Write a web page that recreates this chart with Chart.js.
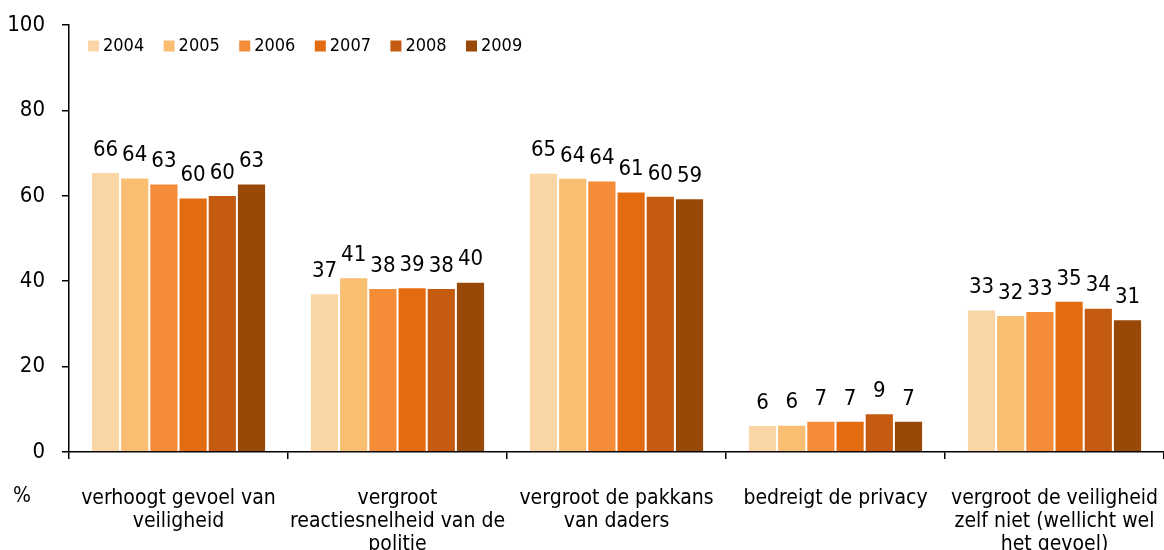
<!DOCTYPE html>
<html>
<head>
<meta charset="utf-8">
<script src="https://cdn.jsdelivr.net/npm/chart.js@4"></script>
<style>
  html, body { margin: 0; padding: 0; background: #fff; }
  #wrap { width: 1164px; height: 550px; position: relative; }
</style>
</head>
<body>
<div id="wrap"><canvas id="chart"></canvas></div>
<script>
const categories = [
  ['verhoogt gevoel van', 'veiligheid'],
  ['vergroot', 'reactiesnelheid van de', 'politie'],
  ['vergroot de pakkans', 'van daders'],
  ['bedreigt de privacy'],
  ['vergroot de veiligheid', 'zelf niet (wellicht wel', 'het gevoel)']
];
const years = ['2004', '2005', '2006', '2007', '2008', '2009'];

// values per year, one entry per category
const v2004 = [65.6, 37.2, 65.4, 6.3, 33.4];
const v2005 = [64.3, 40.9, 64.2, 6.4, 32.1];
const v2006 = [62.9, 38.4, 63.6, 7.3, 33.0];
const v2007 = [59.6, 38.6, 61.0, 7.3, 35.4];
const v2008 = [60.2, 38.4, 60.0, 9.1, 33.8];
const v2009 = [62.9, 39.9, 59.4, 7.3, 31.1];
const series = [v2004, v2005, v2006, v2007, v2008, v2009];

const colors = ['#fad5a5', '#f9be72', '#f58c37', '#e46c10', '#c55a11', '#984807'];

const FONT = '"DejaVu Sans Condensed", "DejaVu Sans", sans-serif';
Chart.defaults.font.family = FONT;
Chart.defaults.color = '#000';

// value labels above each bar
const barLabels = {
  id: 'barLabels',
  afterDatasetsDraw(chart) {
    const ctx = chart.ctx;
    ctx.save();
    ctx.font = '22px ' + FONT;
    ctx.fillStyle = '#000';
    ctx.textAlign = 'center';
    ctx.textBaseline = 'middle';
    chart.data.datasets.forEach((ds, i) => {
      chart.getDatasetMeta(i).data.forEach((bar, j) => {
        ctx.fillText(Math.round(ds.data[j]), bar.x, bar.y - 22);
      });
    });
    ctx.restore();
  }
};

// legend in one row inside the plot, plus the "%" under the y axis
const extras = {
  id: 'extras',
  afterDraw(chart) {
    const ctx = chart.ctx;
    const area = chart.chartArea;
    ctx.save();
    ctx.font = '18px ' + FONT;
    ctx.textBaseline = 'middle';
    ctx.textAlign = 'left';
    chart.data.datasets.forEach((ds, i) => {
      const x = area.left + 19 + i * 75.6;
      const y = 46;
      ctx.fillStyle = ds.backgroundColor;
      ctx.fillRect(x, y - 5.5, 11, 11);
      ctx.fillStyle = '#000';
      ctx.fillText(ds.label, x + 15, y);
    });
    ctx.font = '21px ' + FONT;
    ctx.textAlign = 'center';
    ctx.fillText('%', 22, area.bottom + 45);
    ctx.restore();
  }
};

new Chart(document.getElementById('chart'), {
  type: 'bar',
  data: {
    labels: categories,
    datasets: years.map((y, i) => ({
      label: y,
      data: series[i],
      backgroundColor: colors[i],
      borderColor: 'rgba(255,255,255,0.3)',
      borderWidth: 1,
      categoryPercentage: 0.8,
      barPercentage: 1.0
    }))
  },
  options: {
    responsive: true,
    maintainAspectRatio: false,
    animation: false,
    layout: { padding: { top: 25, right: 0, left: 0, bottom: 0 } },
    plugins: {
      legend: { display: false },
      tooltip: { enabled: false }
    },
    scales: {
      x: {
        grid: {
          drawOnChartArea: false,
          drawTicks: true,
          tickLength: 7,
          color: '#000',
          lineWidth: 1.5
        },
        border: { color: '#000', width: 1.5 },
        ticks: {
          maxRotation: 0,
          autoSkip: false,
          padding: 28,
          font: { size: 21, lineHeight: 1.1 }
        },
        afterFit(axis) {
          axis.height = 98;
          axis.paddingLeft = 0;
          axis.paddingRight = 0;
        }
      },
      y: {
        min: 0,
        max: 100,
        ticks: {
          stepSize: 20,
          padding: 17,
          font: { size: 22 }
        },
        grid: {
          drawOnChartArea: false,
          drawTicks: true,
          tickLength: 7,
          color: '#000',
          lineWidth: 1.5
        },
        border: { color: '#000', width: 1.5 },
        afterFit(axis) {
          axis.width = 69;
          axis.paddingTop = 0;
          axis.paddingBottom = 0;
        }
      }
    }
  },
  plugins: [barLabels, extras]
});
</script>
</body>
</html>
